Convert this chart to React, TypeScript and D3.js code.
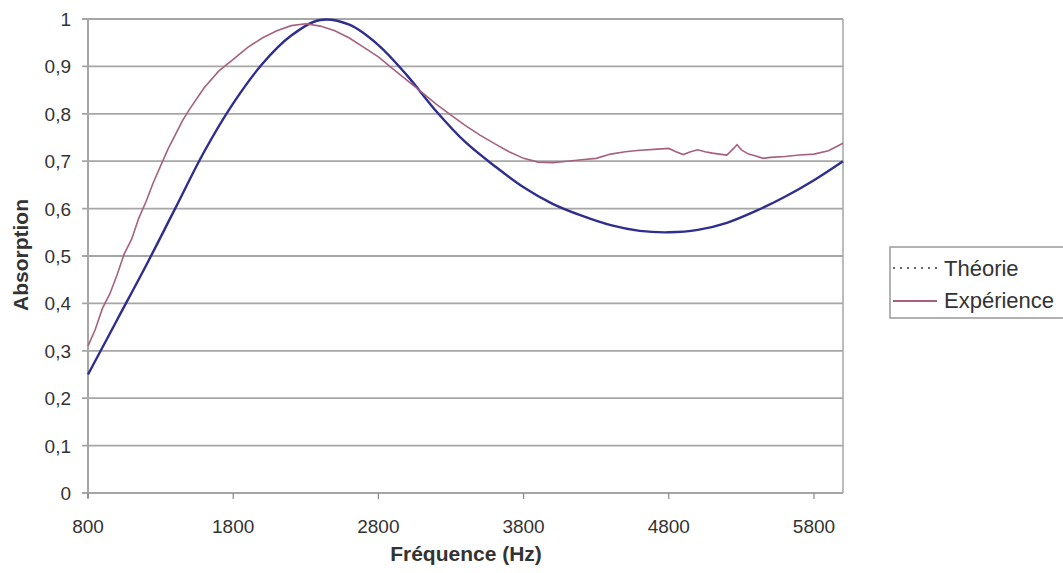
import React from "react";
import * as d3 from "d3";

const xTicks = [800, 1800, 2800, 3800, 4800, 5800];
const yTicks = [0, 0.1, 0.2, 0.3, 0.4, 0.5, 0.6, 0.7, 0.8, 0.9, 1];

const theoryFreq = [800, 1000, 1200, 1400, 1600, 1800, 2000, 2200, 2400, 2600, 2800, 3000, 3200, 3400, 3600, 3800, 4000, 4200, 4400, 4600, 4800, 5000, 5200, 5400, 5600, 5800, 6000];
const theoryValues = [0.25, 0.365, 0.48, 0.6, 0.72, 0.822, 0.905, 0.965, 0.998, 0.988, 0.945, 0.88, 0.805, 0.74, 0.69, 0.645, 0.61, 0.585, 0.565, 0.553, 0.55, 0.555, 0.57, 0.595, 0.625, 0.66, 0.7];

const expFreq = [800, 850, 900, 950, 1000, 1050, 1100, 1150, 1200, 1250, 1300, 1350, 1400, 1450, 1500, 1600, 1700, 1800, 1900, 2000, 2100, 2200, 2300, 2400, 2500, 2600, 2700, 2800, 2900, 3000, 3100, 3200, 3300, 3400, 3500, 3600, 3700, 3800, 3900, 4000, 4100, 4200, 4300, 4400, 4500, 4600, 4700, 4800, 4850, 4900, 4950, 5000, 5050, 5100, 5150, 5200, 5250, 5270, 5300, 5350, 5400, 5450, 5500, 5600, 5700, 5800, 5900, 5950, 6000];
const expValues = [0.31, 0.345, 0.39, 0.42, 0.46, 0.505, 0.535, 0.58, 0.615, 0.655, 0.69, 0.725, 0.755, 0.785, 0.81, 0.855, 0.89, 0.915, 0.94, 0.96, 0.975, 0.986, 0.99, 0.985, 0.975, 0.96, 0.94, 0.92, 0.895, 0.87, 0.845, 0.82, 0.797, 0.775, 0.755, 0.737, 0.72, 0.706, 0.698, 0.697, 0.7, 0.703, 0.706, 0.715, 0.72, 0.723, 0.725, 0.727, 0.72, 0.714, 0.72, 0.724, 0.72, 0.717, 0.715, 0.713, 0.728, 0.735, 0.724, 0.715, 0.711, 0.706, 0.708, 0.71, 0.713, 0.715, 0.722, 0.73, 0.738];

const legendLabels = ["Théorie", "Expérience"];

export default function App() {
  const left = 88, right = 843, top = 19, bottom = 493;
  const x = d3.scaleLinear().domain([800, 6000]).range([left, right]);
  const y = d3.scaleLinear().domain([0, 1]).range([bottom, top]);

  const theory = theoryFreq.map((f, i) => [f, theoryValues[i]] as [number, number]);
  const exp = expFreq.map((f, i) => [f, expValues[i]] as [number, number]);

  const smooth = d3.line<[number, number]>().x(d => x(d[0])).y(d => y(d[1])).curve(d3.curveCatmullRom);
  const raw = d3.line<[number, number]>().x(d => x(d[0])).y(d => y(d[1])).curve(d3.curveLinear);

  const grid = "#a6a6a6";
  const font = "Arial, 'Liberation Sans', sans-serif";

  return (
    <svg width={1063} height={573} style={{ position: "fixed", left: 0, top: 0, background: "#fff" }} fontFamily={font}>
      <rect x={0} y={0} width={1063} height={573} fill="#fff" />
      {yTicks.map(t => (
        <g key={t}>
          <line x1={left - 6} x2={right} y1={y(t)} y2={y(t)} stroke={grid} strokeWidth={1.8} />
          <text x={71} y={y(t) + 7} textAnchor="end" fontSize={19} fill="#333">
            {String(t).replace(".", ",")}
          </text>
        </g>
      ))}
      <line x1={left} x2={left} y1={top} y2={bottom + 5} stroke={grid} strokeWidth={2} />
      <line x1={right} x2={right} y1={top} y2={bottom} stroke={grid} strokeWidth={1.5} />
      {xTicks.map(t => (
        <g key={t}>
          <line x1={x(t)} x2={x(t)} y1={bottom} y2={bottom + 6} stroke="#888" strokeWidth={1.2} />
          <text x={x(t)} y={533} textAnchor="middle" fontSize={19} fill="#333">{t}</text>
        </g>
      ))}
      <path d={smooth(theory) || ""} fill="none" stroke="#2e2e8f" strokeWidth={2.4} />
      <path d={raw(exp) || ""} fill="none" stroke="#a8607f" strokeWidth={1.6} />
      <text x={466} y={561} textAnchor="middle" fontSize={21} fontWeight="bold" fill="#333">Fréquence (Hz)</text>
      <text transform="translate(28,255) rotate(-90)" textAnchor="middle" fontSize={21} fontWeight="bold" fill="#333">Absorption</text>
      <rect x={890} y={247} width={190} height={71} fill="#fff" stroke="#999" strokeWidth={1.5} />
      <line x1={893} x2={937} y1={268} y2={268} stroke="#333" strokeWidth={1.5} strokeDasharray="2,5" />
      <line x1={893} x2={937} y1={301} y2={301} stroke="#a8607f" strokeWidth={2} />
      <text x={944} y={276} fontSize={22} fill="#333">{legendLabels[0]}</text>
      <text x={944} y={308} fontSize={22} fill="#333">{legendLabels[1]}</text>
    </svg>
  );
}
